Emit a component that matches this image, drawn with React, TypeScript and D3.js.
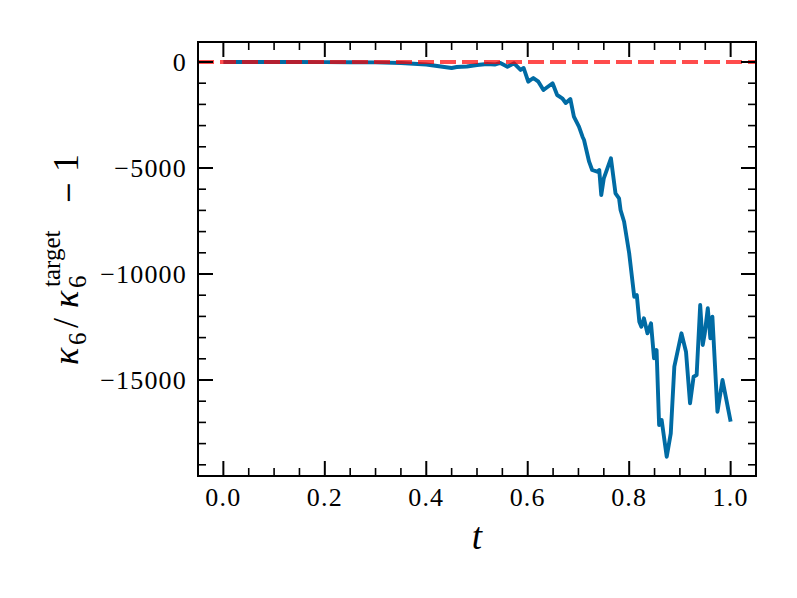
import React from "react";
import * as d3 from "d3";

const tValues = [0.0, 0.05, 0.1, 0.15, 0.2, 0.25, 0.3, 0.35, 0.4, 0.45, 0.46, 0.48, 0.5, 0.52, 0.535, 0.546,
  0.56, 0.573, 0.586, 0.592, 0.601, 0.611, 0.621, 0.631, 0.649, 0.658, 0.668, 0.675, 0.684, 0.691,
  0.701, 0.708, 0.711, 0.721, 0.727, 0.737, 0.741, 0.745, 0.75, 0.764, 0.773, 0.78, 0.783, 0.79,
  0.8, 0.81, 0.815, 0.82, 0.824, 0.829, 0.836, 0.843, 0.849, 0.854, 0.859, 0.864, 0.874, 0.882,
  0.889, 0.903, 0.912, 0.92, 0.927, 0.933, 0.94, 0.945, 0.949, 0.955, 0.96, 0.964, 0.974, 0.984, 1.0];
const kappaValues = [0, 0, 0, -2, -5, -10, -20, -47, -118, -283, -236, -212, -141, -94, -120, -47,
  -222, -61, -377, -283, -929, -755, -929, -1321, -1005, -1557, -1712, -1934, -1745, -2580,
  -3052, -3524, -3679, -4703, -5094, -5175, -5094, -6274, -5486, -4542, -6193, -6429, -6981, -7533,
  -9024, -11071, -10991, -12250, -12486, -12090, -12797, -12325, -13976, -13585, -17123, -16887, -18618, -17515,
  -14372, -12797, -13665, -16099, -14845, -14765, -11463, -13349, -12797, -11618, -13033, -12014, -16495, -15000, -16967];

const xMajor = [0, 0.2, 0.4, 0.6, 0.8, 1.0];
const xMajorLabels = ["0.0", "0.2", "0.4", "0.6", "0.8", "1.0"];
const yMajor = [0, -5000, -10000, -15000];
const yMajorLabels = ["0", "\u22125000", "\u221210000", "\u221215000"];

const W = 797, H = 598;
const L = 198, R = 756, T = 42, B = 476;

export default function App() {
  const x = d3.scaleLinear().domain([-0.05, 1.05]).range([L, R]);
  const y = d3.scaleLinear().domain([-19528, 943]).range([B, T]);
  const pts = tValues.map((t, i) => [t, kappaValues[i]] as [number, number]);
  const line = d3.line<[number, number]>().x(d => x(d[0])).y(d => y(d[1]));
  const xMinor = d3.range(0, 1.0001, 0.05).filter(v => !xMajor.some(m => Math.abs(m - v) < 1e-6));
  const yMinor = d3.range(-19000, 1, 1000).filter(v => v % 5000 !== 0);
  const serif = "'Liberation Serif', 'DejaVu Serif', serif";
  const maj = 15, mnr = 8;
  return (
    <svg width={W} height={H} style={{ position: "absolute", left: 0, top: 0, background: "#fff" }}>
      <rect x={0} y={0} width={W} height={H} fill="#fff" />
      <defs>
        <clipPath id="clip"><rect x={L} y={T} width={R - L} height={B - T} /></clipPath>
      </defs>
      <g clipPath="url(#clip)">
        <path d={line(pts) || ""} fill="none" stroke="#006BA4" strokeWidth={3.9} strokeLinejoin="round" />
        <line x1={L} x2={R} y1={y(0)} y2={y(0)} stroke="#ff0000" strokeOpacity={0.7} strokeWidth={3.8} strokeDasharray="16,6" />
      </g>
      {xMajor.map(v => (
        <g key={"xm" + v}>
          <line x1={x(v)} x2={x(v)} y1={B} y2={B - maj} stroke="#000" strokeWidth={2} />
          <line x1={x(v)} x2={x(v)} y1={T} y2={T + maj} stroke="#000" strokeWidth={2} />
        </g>
      ))}
      {xMinor.map(v => (
        <g key={"xn" + v}>
          <line x1={x(v)} x2={x(v)} y1={B} y2={B - mnr} stroke="#000" strokeWidth={1.6} />
          <line x1={x(v)} x2={x(v)} y1={T} y2={T + mnr} stroke="#000" strokeWidth={1.6} />
        </g>
      ))}
      {yMajor.map(v => (
        <g key={"ym" + v}>
          <line x1={L} x2={L + maj} y1={y(v)} y2={y(v)} stroke="#000" strokeWidth={2} />
          <line x1={R} x2={R - maj} y1={y(v)} y2={y(v)} stroke="#000" strokeWidth={2} />
        </g>
      ))}
      {yMinor.map(v => (
        <g key={"yn" + v}>
          <line x1={L} x2={L + mnr} y1={y(v)} y2={y(v)} stroke="#000" strokeWidth={1.6} />
          <line x1={R} x2={R - mnr} y1={y(v)} y2={y(v)} stroke="#000" strokeWidth={1.6} />
        </g>
      ))}
      <rect x={L} y={T} width={R - L} height={B - T} fill="none" stroke="#000" strokeWidth={2} />
      {xMajor.map((v, i) => (
        <text key={"xl" + v} x={x(v)} y={506} textAnchor="middle" fontFamily={serif} fontSize={26} letterSpacing={1.2}>{xMajorLabels[i]}</text>
      ))}
      {yMajor.map((v, i) => (
        <text key={"yl" + v} x={187} y={y(v) + 9} textAnchor="end" fontFamily={serif} fontSize={26} letterSpacing={1.2}>{yMajorLabels[i]}</text>
      ))}
      <text x={(L + R) / 2} y={549} textAnchor="middle" fontFamily={serif} fontStyle="italic" fontSize={37}>t</text>
      <g transform="translate(78,258) rotate(-90)" fontFamily={serif}>
        <text x={-107} y={0} fontSize={36} fontStyle="italic">κ</text>
        <text x={-87} y={8} fontSize={25}>6</text>
        <text x={-70} y={0} fontSize={36}>/</text>
        <text x={-50} y={0} fontSize={36} fontStyle="italic">κ</text>
        <text x={-30} y={8} fontSize={25}>6</text>
        <text x={-29} y={-18} fontSize={25}>target</text>
        <text x={54} y={-1} fontSize={27} fontFamily="'DejaVu Serif', serif">{"\u2212"}</text>
        <text x={86} y={0} fontSize={36}>1</text>
      </g>
    </svg>
  );
}
